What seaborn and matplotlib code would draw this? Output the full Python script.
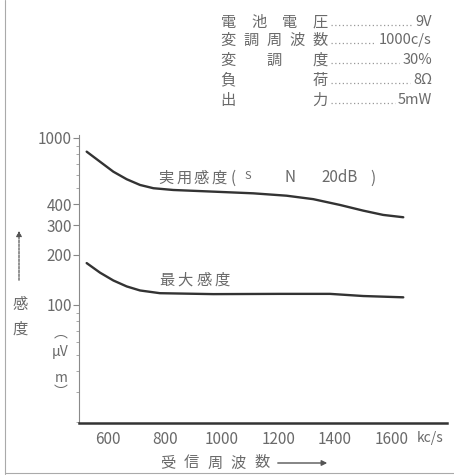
import matplotlib.pyplot as plt
import matplotlib.ticker as mticker
from matplotlib.lines import Line2D
from matplotlib.patches import FancyArrowPatch
import pandas as pd
import seaborn as sns

# values (kc/s, μV/m)
freq_practical = [525, 572, 619, 666, 713, 760, 830, 971, 1112, 1229, 1323, 1417, 1499, 1569, 1640]
practical = [828, 721, 628, 566, 523, 500, 488, 477, 466, 451, 430, 397, 367, 346, 335]
freq_maximum = [525, 572, 619, 666, 713, 783, 971, 1206, 1382, 1499, 1640]
maximum = [178, 156, 140, 129, 122, 117.5, 116, 116.4, 116.4, 113, 111]
x_ticks = [600, 800, 1000, 1200, 1400, 1600]
x_ticklabels = ['600', '800', '1000', '1200', '1400', '1600']
y_ticks = [100, 200, 300, 400, 1000]
y_ticklabels = ['100', '200', '300', '400', '1000']
cond_names = ['電池電圧', '変調周波数', '変調度', '負荷', '出力']
cond_values = ['9V', '1000c/s', '30%', '8Ω', '5mW']

W, H = 454, 476
INK = '#333333'
GREY = '#6a6a6a'

sns.set_theme(style='white')
plt.rcParams['font.family'] = ['Noto Sans CJK JP', 'DejaVu Sans']

df = pd.DataFrame({
    'freq': freq_practical + freq_maximum,
    'sens': practical + maximum,
    'curve': ['実用感度'] * len(freq_practical) + ['最大感度'] * len(freq_maximum),
})

fig = plt.figure(figsize=(W / 100, H / 100), dpi=100)
ax = fig.add_axes([79 / W, 1 - 423 / H, (447 - 79) / W, (423 - 135) / H])

sns.lineplot(data=df, x='freq', y='sens', hue='curve', palette=[INK, INK],
             linewidth=1.7, legend=False, ax=ax, solid_joinstyle='round')

ax.set_yscale('log')
ax.set_xlim(498, 1794)
ax.set_ylim(19.6, 1042)
ax.set_xticks(x_ticks)
ax.set_xticklabels(x_ticklabels)
ax.yaxis.set_major_locator(mticker.FixedLocator(y_ticks))
ax.yaxis.set_major_formatter(mticker.FixedFormatter(y_ticklabels))
ax.yaxis.set_minor_locator(mticker.LogLocator(base=10, subs=range(2, 10)))
ax.yaxis.set_minor_formatter(mticker.NullFormatter())
ax.tick_params(axis='y', which='major', direction='out', length=4, width=0.8,
               color='#888888', pad=1, labelsize=11, labelcolor=GREY, left=True)
ax.tick_params(axis='y', which='minor', direction='out', length=2, width=0.6,
               color='#999999', left=True)
ax.tick_params(axis='x', length=0, pad=6, labelsize=11, labelcolor=GREY)
ax.set_xlabel('')
ax.set_ylabel('')
for s in ['top', 'right']:
    ax.spines[s].set_visible(False)
ax.spines['left'].set_color('#8a8a8a')
ax.spines['left'].set_linewidth(0.8)
ax.spines['left'].set_linestyle((0, (2, 1)))
ax.spines['bottom'].set_color(INK)
ax.spines['bottom'].set_linewidth(1.8)


def ftext(x, y, s, **kw):
    kw.setdefault('color', GREY)
    kw.setdefault('va', 'center')
    return fig.text(x / W, 1 - y / H, s, **kw)


def spread(chars, x0, x1, y, size):
    # place characters evenly between two pixel centres
    n = len(chars)
    for i, c in enumerate(chars):
        x = x0 if n == 1 else x0 + (x1 - x0) * i / (n - 1)
        ftext(x, y, c, ha='center', fontsize=size)


renderer = fig.canvas.get_renderer()

# conditions block
rows_y = [22, 40, 60, 80, 100]
for name, val, y in zip(cond_names, cond_values, rows_y):
    spread(name, 228, 320, y, 11)
    t = ftext(432, y, val, ha='right', fontsize=10.5)
    left = t.get_window_extent(renderer).x0
    fig.add_artist(Line2D([331 / W, (left - 3) / W], [1 - (y + 3) / H] * 2,
                          transform=fig.transFigure, color='#999999', lw=0.9,
                          linestyle=(0, (1, 2))))

# curve labels
spread('実用感度', 166, 219, 178, 11)
ftext(233, 178, '(', ha='center', fontsize=11)
ftext(248, 176, 'S', ha='center', fontsize=8)
ftext(290, 178, 'N', ha='center', fontsize=11)
ftext(340, 178, '20dB', ha='center', fontsize=11)
ftext(373, 178, ')', ha='center', fontsize=11)
spread('最大感度', 167, 222, 280, 11)

# unit after last tick
ftext(417, 438, 'kc/s', ha='left', fontsize=10)

# x axis title with arrow
spread('受信周波数', 168, 262, 463, 11)
fig.add_artist(FancyArrowPatch((275 / W, 1 - 463 / H), (330 / W, 1 - 463 / H),
                               transform=fig.transFigure, arrowstyle='-|>',
                               mutation_scale=8, color='#555555', lw=1.0))

# y axis title
fig.add_artist(FancyArrowPatch((19 / W, 1 - 283 / H), (19 / W, 1 - 228 / H),
                               transform=fig.transFigure, arrowstyle='-|>',
                               mutation_scale=8, color='#555555', lw=0.9,
                               linestyle=(0, (2, 1))))
ftext(20, 304, '感', ha='center', fontsize=11)
ftext(20, 329, '度', ha='center', fontsize=11)
ftext(61, 333, '︵', ha='center', fontsize=10)
ftext(60, 352, 'μV', ha='center', fontsize=10)
ftext(61, 378, 'm', ha='center', fontsize=10)
ftext(61, 392, '︶', ha='center', fontsize=10)

# scan frame
fig.add_artist(Line2D([5 / W, 5 / W], [0.005, 1], transform=fig.transFigure,
                      color='#aaaaaa', lw=0.8))
fig.add_artist(Line2D([5 / W, 1], [1 - 473 / H, 1 - 473 / H], transform=fig.transFigure,
                      color='#aaaaaa', lw=0.8))

fig.savefig('out.png', dpi=100)
